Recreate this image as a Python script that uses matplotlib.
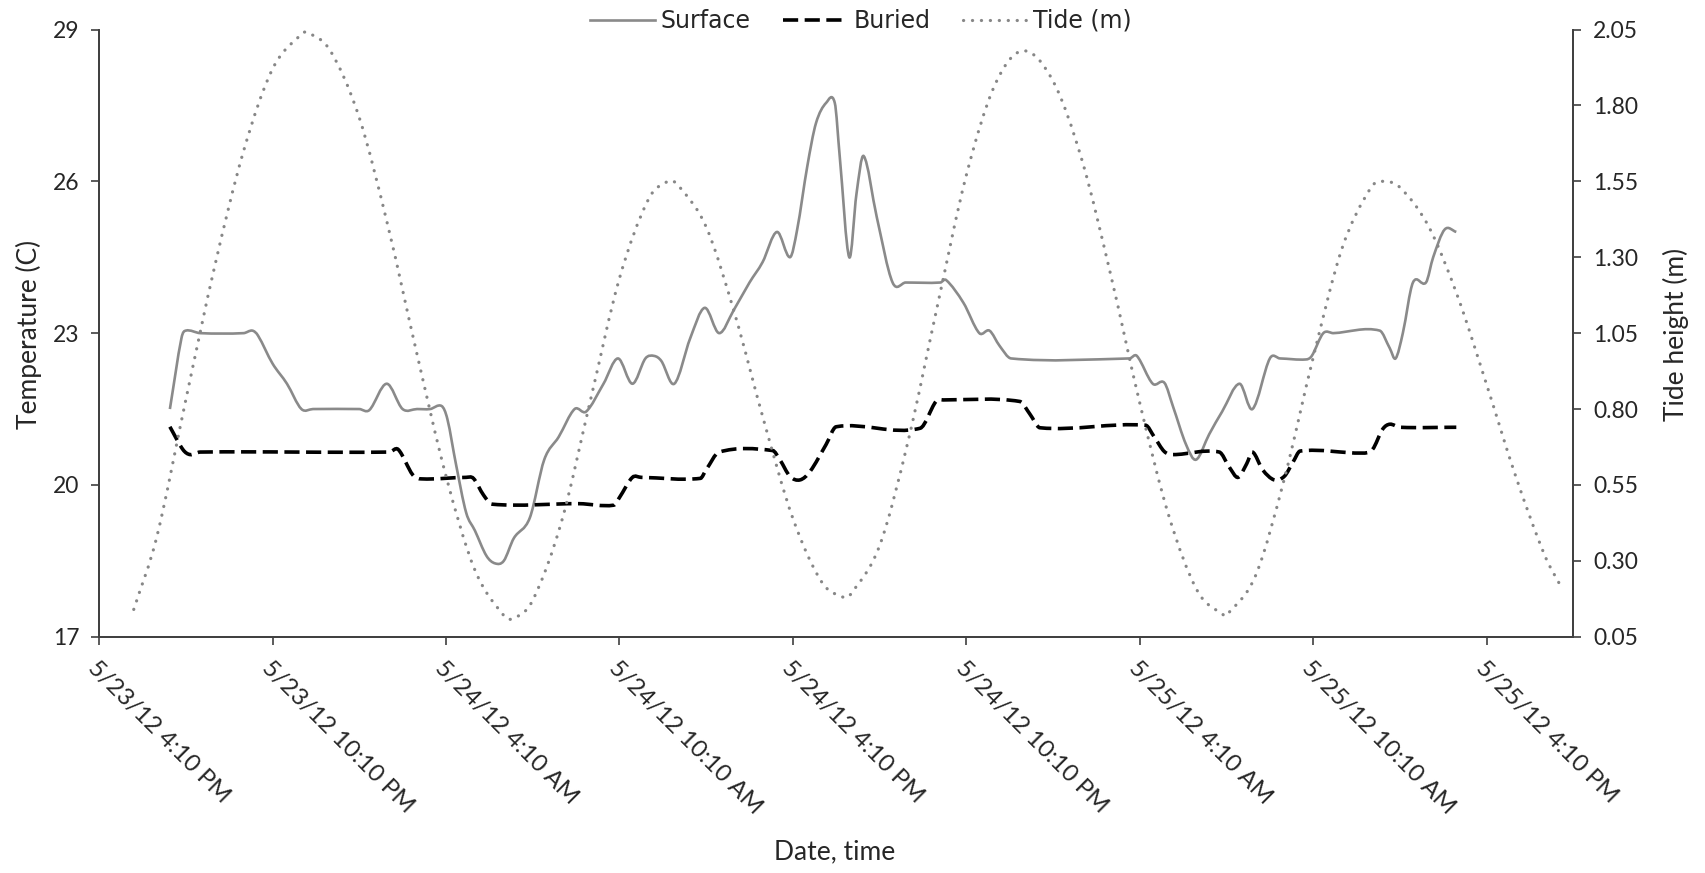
import matplotlib
matplotlib.use("Agg")
import matplotlib.pyplot as plt
from matplotlib.path import Path
from matplotlib.patches import PathPatch
from matplotlib.lines import Line2D

# x values are hours after 5/23/12 4:10 PM
tick_hours = [0, 6, 12, 18, 24, 30, 36, 42, 48]
tick_labels = ['5/23/12 4:10 PM', '5/23/12 10:10 PM', '5/24/12 4:10 AM',
               '5/24/12 10:10 AM', '5/24/12 4:10 PM', '5/24/12 10:10 PM',
               '5/25/12 4:10 AM', '5/25/12 10:10 AM', '5/25/12 4:10 PM']

# Surface temperature (C)
surf_h = [2.45, 2.85, 3.0, 3.5, 5.0, 5.3, 5.5, 6.0, 6.5, 7.0, 7.4, 9.0, 9.35, 9.95,
          10.5, 11.0, 11.45, 11.85, 12.05, 12.35, 12.7, 13.0, 13.4, 13.7, 14.0, 14.35,
          14.9, 15.4, 15.9, 16.45, 16.85, 17.45, 17.95, 18.45, 18.9, 19.2, 19.45, 19.9,
          20.45, 20.95, 21.45, 21.95, 22.5, 22.95, 23.45, 23.9, 24.15, 24.5, 24.8, 25.15,
          25.45, 25.62, 25.95, 26.2, 26.45, 26.9, 27.45, 27.9, 29.1, 29.3, 29.9, 30.45,
          30.8, 31.15, 31.55, 35.65, 35.9, 36.45, 36.85, 37.15, 37.6, 37.95, 38.4, 38.85,
          39.45, 39.9, 40.5, 40.85, 41.75, 41.95, 42.35, 42.7, 44.3, 44.65, 44.85, 45.1,
          45.45, 45.9, 46.15, 46.55, 46.95]
surf_t = [21.5, 22.9, 23.05, 23.0, 23.0, 23.05, 22.95, 22.4, 22.0, 21.5, 21.5, 21.5, 21.48, 22.0,
          21.5, 21.5, 21.5, 21.56, 21.3, 20.4, 19.45, 19.1, 18.6, 18.45, 18.5, 18.95,
          19.35, 20.5, 20.95, 21.5, 21.45, 22.0, 22.5, 22.0, 22.5, 22.55, 22.45, 22.0,
          22.9, 23.5, 23.0, 23.45, 24.0, 24.4, 25.0, 24.5, 25.05, 26.3, 27.15, 27.55,
          27.55, 26.5, 24.5, 25.75, 26.5, 25.3, 24.0, 24.0, 24.0, 24.05, 23.6, 23.0,
          23.05, 22.75, 22.5, 22.5, 22.55, 22.0, 22.02, 21.55, 20.8, 20.5, 21.0, 21.45,
          22.0, 21.5, 22.5, 22.5, 22.48, 22.55, 23.0, 23.0, 23.05, 22.7, 22.5, 23.0,
          24.0, 24.0, 24.5, 25.05, 25.0]

# Buried temperature (C)
bur_h = [2.45, 2.9, 3.15, 3.5, 10.05, 10.35, 10.85, 11.15, 12.7, 12.95, 13.3, 13.6, 16.6,
         17.8, 18.0, 18.45, 18.75, 20.8, 21.0, 21.45, 23.3, 23.55, 23.9, 24.25, 24.6,
         25.15, 25.5, 28.4, 28.95, 29.2, 31.85, 32.2, 32.55, 36.2, 36.5, 36.85, 37.15,
         38.75, 39.1, 39.4, 39.7, 39.9, 40.25, 40.65, 41.0, 41.3, 41.55, 43.7, 44.05,
         44.4, 44.65, 45.0, 46.95]
bur_t = [21.15, 20.7, 20.6, 20.65, 20.65, 20.7, 20.2, 20.12, 20.15, 20.13, 19.8, 19.62, 19.63,
         19.6, 19.75, 20.15, 20.15, 20.13, 20.3, 20.65, 20.68, 20.5, 20.17, 20.1, 20.27,
         20.8, 21.15, 21.12, 21.65, 21.68, 21.65, 21.4, 21.13, 21.18, 20.95, 20.66, 20.6,
         20.65, 20.35, 20.15, 20.42, 20.65, 20.3, 20.1, 20.17, 20.45, 20.67, 20.63, 20.7,
         21.1, 21.2, 21.14, 21.14]

# Tide height (m)
tide_h = [1.2, 2, 3, 4, 5, 6, 7, 7.22, 8, 9, 10, 11, 12, 13, 14, 14.33, 15, 16, 17, 18, 19,
          19.68, 20, 21, 22, 23, 24, 25, 25.75, 26, 27, 28, 29, 30, 31, 31.97, 33, 34, 35,
          36, 37, 38, 38.92, 39, 40, 41, 42, 43, 44, 44.42, 45, 46, 47, 48, 49, 50, 50.6]
tide_m = [0.14, 0.38, 0.83, 1.27, 1.65, 1.92, 2.035, 2.04, 1.98, 1.76, 1.40, 0.98, 0.58, 0.27,
          0.12, 0.11, 0.17, 0.43, 0.83, 1.23, 1.49, 1.55, 1.54, 1.40, 1.11, 0.76, 0.44, 0.23,
          0.18, 0.19, 0.35, 0.70, 1.14, 1.57, 1.87, 1.98, 1.88, 1.62, 1.24, 0.82, 0.45, 0.20,
          0.12, 0.12, 0.25, 0.57, 0.97, 1.33, 1.53, 1.55, 1.53, 1.40, 1.17, 0.88, 0.58, 0.32,
          0.21]

text_col = '#262626'
axis_col = '#404040'
plt.rcParams['font.family'] = ['Lato', 'DejaVu Sans']


def smooth_path(xs, ys):
    # smoothed line like Excel's: cubic Bezier pieces through every point
    n = len(xs)
    slopes = []
    for i in range(n):
        a, b = max(i - 1, 0), min(i + 1, n - 1)
        slopes.append((ys[b] - ys[a]) / (xs[b] - xs[a]))
    verts = [(xs[0], ys[0])]
    codes = [Path.MOVETO]
    for i in range(n - 1):
        dx = (xs[i + 1] - xs[i]) / 3
        verts += [(xs[i] + dx, ys[i] + slopes[i] * dx),
                  (xs[i + 1] - dx, ys[i + 1] - slopes[i + 1] * dx),
                  (xs[i + 1], ys[i + 1])]
        codes += [Path.CURVE4] * 3
    return Path(verts, codes)


fig = plt.figure(figsize=(17.05, 8.73), dpi=100)
ax = fig.add_axes([0.0581, 0.2706, 0.8642, 0.6956])
ax2 = ax.twinx()

surf_style = dict(color='#8a8a8a', lw=1.9)
bur_style = dict(color='black', lw=2.6, linestyle=(0, (4.2, 1.8)))
tide_style = dict(color='#878787', lw=2.3, linestyle=(0, (0.05, 2.75)))

ax.add_patch(PathPatch(smooth_path(surf_h, surf_t), fill=False, joinstyle='round',
                       edgecolor=surf_style['color'], lw=surf_style['lw']))
ax.add_patch(PathPatch(smooth_path(bur_h, bur_t), fill=False, capstyle='butt',
                       edgecolor=bur_style['color'], lw=bur_style['lw'],
                       linestyle=bur_style['linestyle']))
ax2.add_patch(PathPatch(smooth_path(tide_h, tide_m), fill=False, capstyle='round',
                        edgecolor=tide_style['color'], lw=tide_style['lw'],
                        linestyle=tide_style['linestyle']))

ax.set_xlim(0, 50.97)
ax.set_ylim(17, 29)
ax2.set_ylim(0.05, 2.05)
ax.set_yticks([17, 20, 23, 26, 29])
ax2.set_yticks([0.05, 0.30, 0.55, 0.80, 1.05, 1.30, 1.55, 1.80, 2.05])
ax2.set_yticklabels(['%.2f' % v for v in ax2.get_yticks()])
ax.set_xticks(tick_hours)
ax.set_xticklabels(tick_labels, rotation=-45, ha='left', rotation_mode='anchor')

for a in (ax, ax2):
    a.spines['top'].set_visible(False)
    for s in ('left', 'right', 'bottom'):
        a.spines[s].set_color(axis_col)
        a.spines[s].set_linewidth(1.3)
    a.tick_params(direction='out', length=6, width=1.2, color=axis_col,
                  labelsize=16.5, labelcolor=text_col)
ax.tick_params(axis='x', pad=9, labelsize=17.5)
ax.tick_params(axis='y', pad=8)
ax2.tick_params(axis='y', pad=9)

fig.text(29 / 1705, 1 - 334 / 873, 'Temperature (C)', fontsize=19, color=text_col,
         rotation=90, ha='center', va='center')
fig.text(1676 / 1705, 1 - 334 / 873, 'Tide height (m)', fontsize=19, color=text_col,
         rotation=90, ha='center', va='center')
fig.text(835 / 1705, 1 - 852 / 873, 'Date, time', fontsize=19, color=text_col,
         ha='center', va='center')

handles = [Line2D([], [], **surf_style), Line2D([], [], **bur_style),
           Line2D([], [], dash_capstyle='round', **tide_style)]
fig.legend(handles, ['Surface', 'Buried', 'Tide (m)'], loc='center',
           bbox_to_anchor=(0.505, 0.976), ncol=3, frameon=False, handlelength=2.75,
           handletextpad=0.25, columnspacing=1.35,
           prop={'family': 'DejaVu Sans', 'size': 17}, labelcolor=text_col)

fig.savefig('out.png', dpi=100)
